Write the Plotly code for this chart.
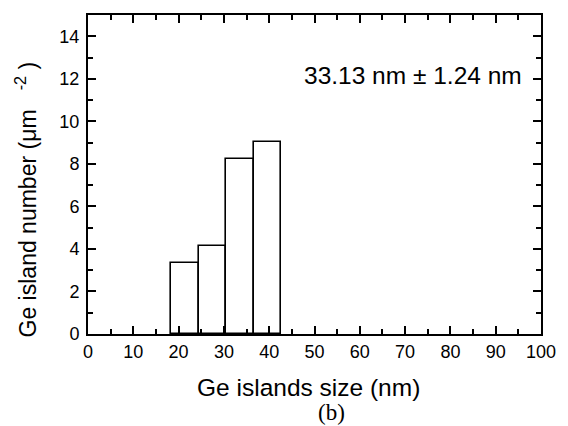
import plotly.graph_objects as go

bin_left = [18.3, 24.4, 30.5, 36.6]
bin_width = 6.1
counts = [3.32, 4.13, 8.22, 9.05]
centers = [b + bin_width / 2 for b in bin_left]

x_ticks = [0, 10, 20, 30, 40, 50, 60, 70, 80, 90, 100]
y_ticks = [0, 2, 4, 6, 8, 10, 12, 14]

fig = go.Figure()
fig.add_trace(go.Bar(
    x=centers, y=counts, width=[bin_width] * len(counts),
    marker=dict(color="white", line=dict(color="black", width=1.6)),
    showlegend=False,
))

font = "Liberation Sans, Arial, sans-serif"
axis_common = dict(
    showline=True, linecolor="black", linewidth=2, mirror="ticks",
    ticks="inside", ticklen=8, tickwidth=1.5, tickcolor="black",
    showgrid=False, zeroline=False,
    tickfont=dict(family=font, size=18, color="black"),
)

nb = "\u00a0"
fig.update_layout(
    width=568, height=426,
    margin=dict(l=88, r=17, t=15, b=92),
    paper_bgcolor="white", plot_bgcolor="white",
    bargap=0,
    xaxis=dict(range=[0, 100], tickvals=x_ticks,
               minor=dict(dtick=5, ticks="inside", ticklen=5, tickcolor="black"),
               **axis_common),
    yaxis=dict(range=[0, 15], tickvals=y_ticks, ticklabelstandoff=3,
               minor=dict(dtick=1, ticks="inside", ticklen=5, tickcolor="black"),
               **axis_common),
    annotations=[
        dict(text="33.13 nm ± 1.24 nm", x=0.963, y=0.811, xref="paper", yref="paper",
             xanchor="right", yanchor="middle", showarrow=False,
             font=dict(family=font, size=24.5, color="black")),
        dict(text="Ge islands size (nm)", x=0.487, y=-0.169, xref="paper", yref="paper",
             xanchor="center", yanchor="middle", showarrow=False,
             font=dict(family=font, size=24.5, color="black")),
        dict(text="Ge island number (μm" + nb * 3 + "<sup>-2</sup>" + nb + ")",
             x=-0.136, y=0.423, xref="paper", yref="paper", textangle=-90,
             xanchor="center", yanchor="middle", showarrow=False,
             font=dict(family=font, size=23, color="black")),
        dict(text="(b)", x=0.538, y=-0.245, xref="paper", yref="paper",
             xanchor="center", yanchor="middle", showarrow=False,
             font=dict(family="Liberation Serif, Times New Roman, serif", size=23, color="black")),
    ],
)

fig.write_html("out.html")
